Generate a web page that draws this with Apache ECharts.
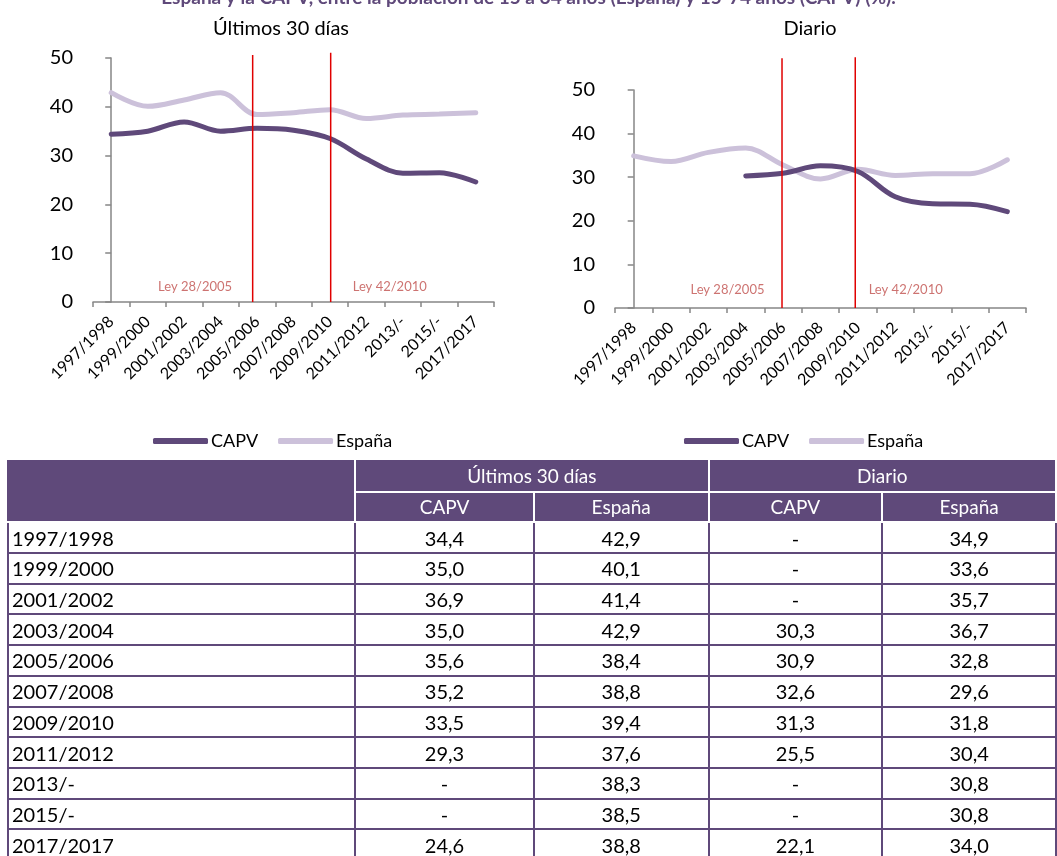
<!DOCTYPE html>
<html>
<head>
<meta charset="utf-8">
<script src="https://cdn.jsdelivr.net/npm/echarts@6/dist/echarts.min.js"></script>
<style>
  html, body { margin:0; padding:0; background:#fff; overflow:hidden; }
  #chart { position:absolute; left:0; top:0; width:1057px; height:856px; }
  #tbl { position:absolute; left:7px; top:460px; border-collapse:collapse; table-layout:fixed;
         font-family: Lato, "Liberation Sans", sans-serif; font-size:20px; color:#000; }
  #tbl td, #tbl th { height:28.7px; padding:0 3px; line-height:28px; border:2px solid #5F497A; font-weight:normal; box-sizing:border-box; }
  #tbl tr { height:30.7px; }
  #tbl th { background:#5F497A; color:#fff; border-color:#fff; font-size:19px; }
  #tbl th.first { border-left-color:#5F497A; border-top-color:#5F497A; }
  #tbl tr.h1 th { border-top-color:#5F497A; }
  #tbl td.num { text-align:center; }
  #tbl td.lab { text-align:left; }
</style>
</head>
<body>
<div id="chart"></div>
<table id="tbl"></table>
<script>
// ---- data ----
const categories = ['1997/1998','1999/2000','2001/2002','2003/2004','2005/2006','2007/2008','2009/2010','2011/2012','2013/-','2015/-','2017/2017'];
// chart values (as drawn)
const capv30 = [34.4, 35.0, 36.9, 35.0, 35.6, 35.2, 33.5, 29.3, 26.4, 26.5, 24.6];
const espana30 = [42.9, 40.1, 41.4, 42.9, 38.4, 38.8, 39.4, 37.6, 38.3, 38.5, 38.8];
const capvDiario = [null, null, null, 30.3, 30.9, 32.6, 31.3, 25.5, 23.9, 23.8, 22.1];
const espanaDiario = [34.9, 33.6, 35.7, 36.7, 32.8, 29.6, 31.8, 30.4, 30.8, 30.8, 34.0];
// table values
const tblCapv30 = [34.4, 35.0, 36.9, 35.0, 35.6, 35.2, 33.5, 29.3, null, null, 24.6];
const tblEspana30 = [42.9, 40.1, 41.4, 42.9, 38.4, 38.8, 39.4, 37.6, 38.3, 38.5, 38.8];
const tblCapvDiario = [null, null, null, 30.3, 30.9, 32.6, 31.3, 25.5, null, null, 22.1];
const tblEspanaDiario = [34.9, 33.6, 35.7, 36.7, 32.8, 29.6, 31.8, 30.4, 30.8, 30.8, 34.0];
const yTicks = [0, 10, 20, 30, 40, 50];
const laws = ['Ley 28/2005', 'Ley 42/2010'];
// law marker positions in category-index units, and their label anchors
const lawX30 = [3.88, 6.02], lawTop30 = [50.6, 51.1];
const lawXDiario = [3.97, 5.93], lawTopDiario = [57.3, 57.5];
const lawLabel30 = [[2.3, 3.1], [7.64, 3.1]];
const lawLabelDiario = [[2.51, 4.2], [7.28, 4.2]];

const titleText = 'España y la CAPV, entre la población de 15 a 64 años (España) y 15-74 años (CAPV) (%).';
const FONT = 'Lato, "Liberation Sans", sans-serif';
const DARK = '#5F497A', LIGHT = '#CCC1DA', AXIS = '#868686', RED = '#E00000', LAWTXT = '#C0504D';

function catAxis(g) {
  return {
    gridIndex: g, type: 'category', data: categories, boundaryGap: true,
    axisLine: { lineStyle: { color: AXIS, width: 1.5 } },
    axisTick: { show: true, length: 5, interval: 0, lineStyle: { color: AXIS, width: 1.5 } },
    axisLabel: { rotate: 45, interval: 0, fontSize: 16, color: '#000', fontFamily: FONT, margin: 17 }
  };
}
function valAxis(g) {
  return {
    gridIndex: g, type: 'value', min: yTicks[0], max: yTicks[yTicks.length - 1], interval: yTicks[1] - yTicks[0],
    splitLine: { show: false },
    axisLine: { show: true, lineStyle: { color: AXIS, width: 1.5 } },
    axisTick: { show: true, length: 6, lineStyle: { color: AXIS, width: 1.5 } },
    axisLabel: { fontSize: 20, color: '#000', fontFamily: FONT, margin: 20 }
  };
}
function hiddenX(g) {
  return { gridIndex: g, type: 'value', min: -0.5, max: categories.length - 0.5, show: false };
}
function lineSeries(name, data, color, xi, yi) {
  return { name, type: 'line', data, xAxisIndex: xi, yAxisIndex: yi, smooth: 0.35,
    symbol: 'none', showSymbol: false, connectNulls: false,
    lineStyle: { color, width: 5, cap: 'round' }, itemStyle: { color }, z: 3 };
}
function lawLines(xs, tops, xi, yi) {
  return xs.map((x, i) => ({
    type: 'line', xAxisIndex: xi, yAxisIndex: yi, data: [[x, 0], [x, tops[i]]],
    symbol: 'none', clip: false, silent: true, z: 4,
    lineStyle: { color: RED, width: 1.5 }
  }));
}
function lawLabels(pos, xi, yi) {
  return {
    type: 'scatter', xAxisIndex: xi, yAxisIndex: yi, symbolSize: 0, silent: true,
    data: pos.map((p, i) => ({ value: p, name: laws[i] })),
    label: { show: true, position: 'inside', formatter: '{b}', color: LAWTXT, fontSize: 13, fontFamily: FONT }
  };
}

const chart = echarts.init(document.getElementById('chart'));
chart.setOption({
  animation: false,
  textStyle: { fontFamily: FONT },
  title: [
    { text: titleText, left: 'center', top: -17, textStyle: { color: DARK, fontSize: 19, fontWeight: 'bold', fontFamily: FONT } },
    { text: 'Últimos 30 días', left: 276, textAlign: 'center', top: 14, textStyle: { color: '#000', fontSize: 20, fontWeight: 'normal', fontFamily: FONT } },
    { text: 'Diario', left: 805, textAlign: 'center', top: 14, textStyle: { color: '#000', fontSize: 20, fontWeight: 'normal', fontFamily: FONT } }
  ],
  legend: [
    { data: ['CAPV', 'España'], left: 148, top: 427, icon: 'roundRect', itemWidth: 55, itemHeight: 6, itemGap: 20,
      textStyle: { fontSize: 18, color: '#000', fontFamily: FONT, padding: [0, 0, 0, -2] } },
    { data: ['CAPV', 'España'], left: 679, top: 427, icon: 'roundRect', itemWidth: 55, itemHeight: 6, itemGap: 20,
      textStyle: { fontSize: 18, color: '#000', fontFamily: FONT, padding: [0, 0, 0, -2] } }
  ],
  grid: [
    { left: 93, top: 58, width: 401, height: 244 },
    { left: 615, top: 90, width: 411, height: 218 }
  ],
  xAxis: [catAxis(0), catAxis(1), hiddenX(0), hiddenX(1)],
  yAxis: [valAxis(0), valAxis(1)],
  series: [
    lineSeries('España', espana30, LIGHT, 0, 0),
    lineSeries('CAPV', capv30, DARK, 0, 0),
    lineSeries('España', espanaDiario, LIGHT, 1, 1),
    lineSeries('CAPV', capvDiario, DARK, 1, 1),
    ...lawLines(lawX30, lawTop30, 2, 0),
    ...lawLines(lawXDiario, lawTopDiario, 3, 1),
    lawLabels(lawLabel30, 2, 0),
    lawLabels(lawLabelDiario, 3, 1)
  ]
});

// ---- table ----
function fmt(v) { return v == null ? '-' : v.toFixed(1).replace('.', ','); }
const colW = [350, 180, 176, 175, 175];
let html = '<colgroup>' + colW.map(w => '<col style="width:' + w + 'px">').join('') + '</colgroup>';
html += '<tr class="h1"><th class="first" rowspan="2"></th><th colspan="2">Últimos 30 días</th><th colspan="2">Diario</th></tr>';
html += '<tr><th>CAPV</th><th>España</th><th>CAPV</th><th>España</th></tr>';
categories.forEach((c, i) => {
  html += '<tr><td class="lab">' + c + '</td><td class="num">' + fmt(tblCapv30[i]) + '</td><td class="num">' + fmt(tblEspana30[i]) +
    '</td><td class="num">' + fmt(tblCapvDiario[i]) + '</td><td class="num">' + fmt(tblEspanaDiario[i]) + '</td></tr>';
});
document.getElementById('tbl').innerHTML = html;
</script>
</body>
</html>
